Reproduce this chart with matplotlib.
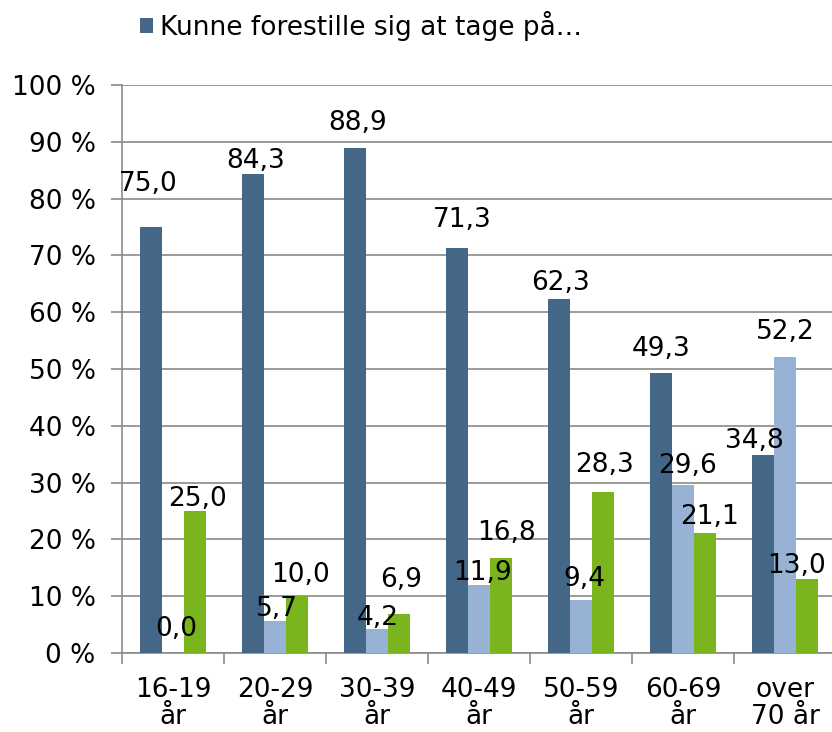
import matplotlib
matplotlib.use("Agg")
import matplotlib.pyplot as plt
import numpy as np

categories = ["16-19\når", "20-29\når", "30-39\når", "40-49\når", "50-59\når", "60-69\når", "over\n70 år"]
series_names = ["Kunne forestille sig at tage på…", "Serie 2", "Serie 3"]
dark = [75.0, 84.3, 88.9, 71.3, 62.3, 49.3, 34.8]
light = [0.0, 5.7, 4.2, 11.9, 9.4, 29.6, 52.2]
green = [25.0, 10.0, 6.9, 16.8, 28.3, 21.1, 13.0]
yticks = [0, 10, 20, 30, 40, 50, 60, 70, 80, 90, 100]

# label placement (pixel offsets of each data label from its bar top centre)
label_dy = [[36, 6, 18, 21, 9, 17, 7],
            [17, 5, 4, 5, 14, 12, 18],
            [5, 14, 27, 18, 20, 9, 6]]
label_dx = [[-3, 3, 3, 5, 1, 0, -9],
            [3, 2, 1, 4, 3, 4, 0],
            [3, 4, 2, 6, 2, 5, -10]]

colors = ["#446788", "#97B2D4", "#7AB51E"]
plt.rcParams['font.family'] = ['DejaVu Sans']

fig = plt.figure(figsize=(8.32, 7.32), dpi=100)
ax = fig.add_axes([122/832, 79/732, 714/832, 568/732])

x = np.arange(len(categories))
w = 0.215
fs = 19
bars_all = []
for i, (vals, c, name) in enumerate(zip([dark, light, green], colors, series_names)):
    bars = ax.bar(x + (i - 1) * w, vals, w, color=c, label=name, zorder=3)
    bars_all.append(bars)
    for j, (b, v) in enumerate(zip(bars, vals)):
        ax.annotate(f"{v:.1f}".replace(".", ","), (b.get_x() + b.get_width() / 2, v),
                    xytext=(label_dx[i][j], label_dy[i][j]), textcoords="offset pixels",
                    ha="center", va="baseline", fontsize=fs, zorder=4)

ax.set_xlim(-0.5, len(categories) - 0.5)
ax.set_ylim(0, 100)
ax.set_yticks(yticks)
ax.set_yticklabels([f"{t} %" for t in yticks], fontsize=fs)
ax.yaxis.grid(True, color="#8a8a8a", linewidth=1.2, zorder=0)
ax.set_axisbelow(True)

ax.set_xticks(x)
ax.set_xticklabels(categories, fontsize=fs, linespacing=1.08)
ax.tick_params(axis="x", length=0, pad=17)
ax.set_xticks(np.arange(len(categories) + 1) - 0.5, minor=True)
ax.tick_params(axis="x", which="minor", length=8, color="#8a8a8a", width=1.2)
ax.tick_params(axis="y", length=8, color="#8a8a8a", width=1.2, pad=11)

for s in ["top", "right"]:
    ax.spines[s].set_visible(False)
for s in ["left", "bottom"]:
    ax.spines[s].set_color("#8a8a8a")
    ax.spines[s].set_linewidth(1.2)

ax.legend([bars_all[0]], [series_names[0]], loc="center left", bbox_to_anchor=(140/832, 1 - 26/732),
          bbox_transform=fig.transFigure, frameon=False, fontsize=fs,
          handlelength=0.5, handleheight=0.5, handletextpad=0.25, borderpad=0, borderaxespad=0)

fig.savefig("out.png", dpi=100)
